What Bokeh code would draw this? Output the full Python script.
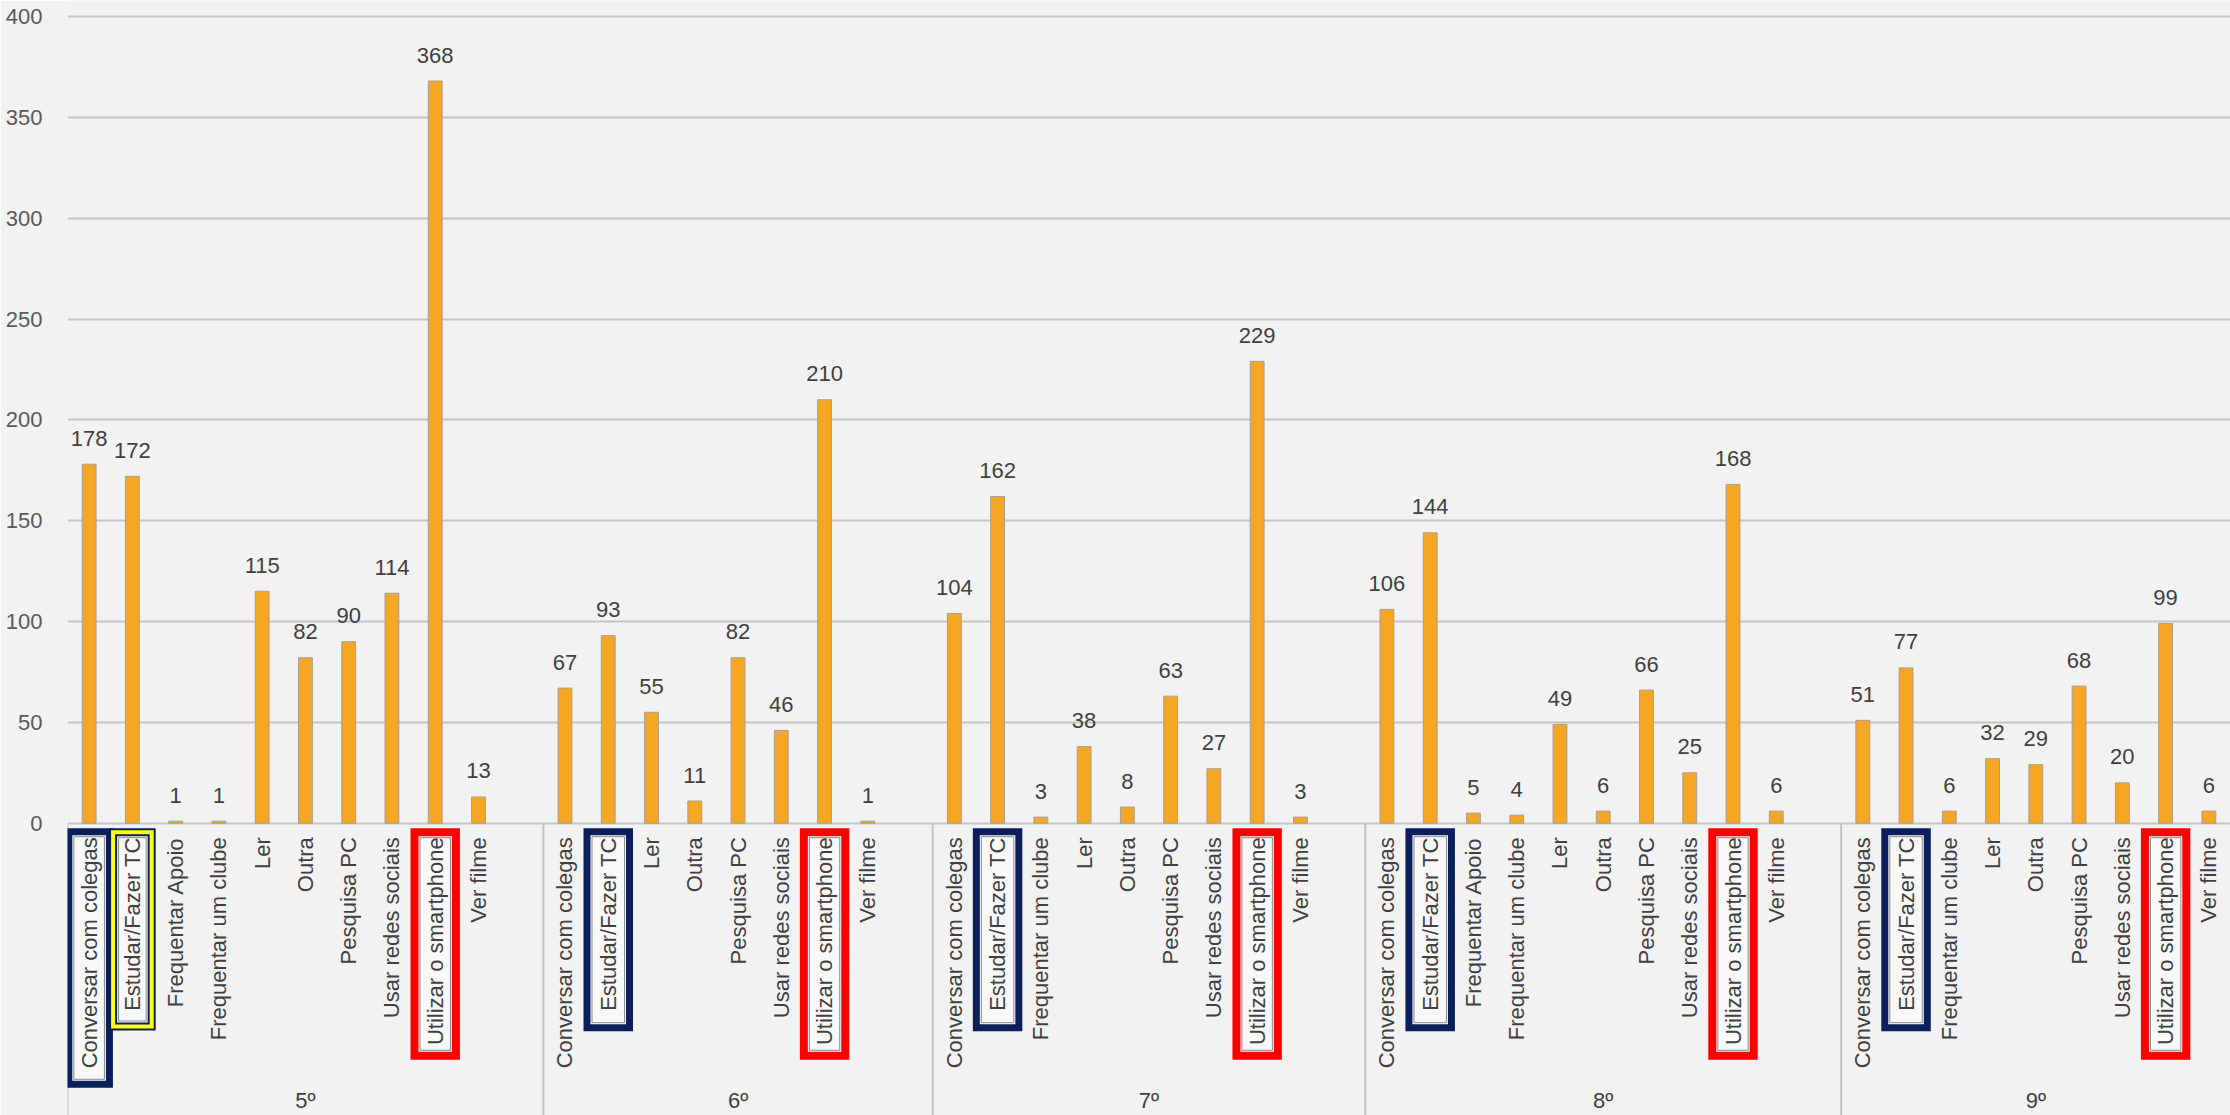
import math
from bokeh.plotting import figure
from bokeh.models import FactorRange, Range1d, FixedTicker, ColumnDataSource
from bokeh.core.properties import value
from bokeh.embed import file_html
from bokeh.resources import INLINE

# ---------------- data ----------------
grades = ["5º", "6º", "7º", "8º", "9º"]

acts_5 = ["Conversar com colegas", "Estudar/Fazer TC", "Frequentar Apoio", "Frequentar um clube",
          "Ler", "Outra", "Pesquisa PC", "Usar redes sociais", "Utilizar o smartphone", "Ver filme"]
vals_5 = [178, 172, 1, 1, 115, 82, 90, 114, 368, 13]

acts_6 = ["Conversar com colegas", "Estudar/Fazer TC", "Ler", "Outra", "Pesquisa PC",
          "Usar redes sociais", "Utilizar o smartphone", "Ver filme"]
vals_6 = [67, 93, 55, 11, 82, 46, 210, 1]

acts_7 = ["Conversar com colegas", "Estudar/Fazer TC", "Frequentar um clube", "Ler", "Outra",
          "Pesquisa PC", "Usar redes sociais", "Utilizar o smartphone", "Ver filme"]
vals_7 = [104, 162, 3, 38, 8, 63, 27, 229, 3]

acts_8 = ["Conversar com colegas", "Estudar/Fazer TC", "Frequentar Apoio", "Frequentar um clube",
          "Ler", "Outra", "Pesquisa PC", "Usar redes sociais", "Utilizar o smartphone", "Ver filme"]
vals_8 = [106, 144, 5, 4, 49, 6, 66, 25, 168, 6]

acts_9 = ["Conversar com colegas", "Estudar/Fazer TC", "Frequentar um clube", "Ler", "Outra",
          "Pesquisa PC", "Usar redes sociais", "Utilizar o smartphone", "Ver filme"]
vals_9 = [51, 77, 6, 32, 29, 68, 20, 99, 6]

y_ticks = [0, 50, 100, 150, 200, 250, 300, 350, 400]

# highlighted category labels: (grade, activity, style)
highlights = [
    ("5º", "Conversar com colegas", "navy_long"),
    ("5º", "Estudar/Fazer TC", "yellow"),
    ("5º", "Utilizar o smartphone", "red"),
    ("6º", "Estudar/Fazer TC", "navy"),
    ("6º", "Utilizar o smartphone", "red"),
    ("7º", "Estudar/Fazer TC", "navy"),
    ("7º", "Utilizar o smartphone", "red"),
    ("8º", "Estudar/Fazer TC", "navy"),
    ("8º", "Utilizar o smartphone", "red"),
    ("9º", "Estudar/Fazer TC", "navy"),
    ("9º", "Utilizar o smartphone", "red"),
]

groups = [(grades[0], acts_5, vals_5), (grades[1], acts_6, vals_6), (grades[2], acts_7, vals_7),
          (grades[3], acts_8, vals_8), (grades[4], acts_9, vals_9)]

factors, tops, names = [], [], []
for g, acts, vals in groups:
    for a, v in zip(acts, vals):
        factors.append((g, a))
        tops.append(v)
        names.append(a)

# ---------------- layout constants ----------------
W, H = 2230, 1115
LEFT = 67
PX_TOP_400 = 16.0     # pixel row of the 400 line
PX_ZERO = 822.7       # pixel row of the zero line
K = (PX_ZERO - PX_TOP_400) / 400.0   # px per data unit
Y1 = 400.0 + PX_TOP_400 / K
Y0 = -(H - PX_ZERO) / K
n_slots = len(factors) + (len(groups) - 1)
SLOT = (W - LEFT) / n_slots  # px per category slot
LABEL_GAP_PX = 26.0

FONT = value("Liberation Sans")
BG = "#f2f2f2"

p = figure(
    width=W, height=H,
    x_range=FactorRange(*factors, group_padding=1.0, factor_padding=0.0, range_padding=0.0),
    y_range=Range1d(Y0, Y1),
    output_backend="svg", toolbar_location=None, x_axis_location=None,
    min_border_left=LEFT, min_border_right=0, min_border_top=0, min_border_bottom=0,
)
p.background_fill_color = BG
p.border_fill_color = BG
p.outline_line_color = None

# y axis
p.yaxis.ticker = FixedTicker(ticks=y_ticks)
p.yaxis.axis_line_color = None
p.yaxis.major_tick_line_color = None
p.yaxis.minor_tick_line_color = None
p.yaxis.major_label_text_font = "Liberation Sans"
p.yaxis.major_label_text_font_size = "22px"
p.yaxis.major_label_text_color = "#595959"
p.yaxis.major_label_standoff = 19
p.ygrid.ticker = FixedTicker(ticks=y_ticks)
p.ygrid.grid_line_color = "#c4c4c4"
p.ygrid.grid_line_width = 2
p.xgrid.visible = False

src = ColumnDataSource(dict(x=factors, top=tops, name=names, lab=[str(v) for v in tops],
                            ylab=[v + LABEL_GAP_PX / K for v in tops]))

# group separators (start of each group) and group labels
sep_x, glab_x, glab_t = [], [], []
for i, (g, acts, vals) in enumerate(groups):
    sep_x.append((g, acts[0], -0.5))
    slots = len(acts) + (1 if i < len(groups) - 1 else 0)
    glab_x.append((g, acts[0], slots / 2.0 - 0.5))
    glab_t.append(g)
p.segment(x0=sep_x, y0=[0] * len(sep_x), x1=sep_x, y1=[Y0] * len(sep_x),
          line_color="#c4c4c4", line_width=2)

# highlight boxes around labels
styles = {
    # outer width px, outer top / bottom px below the zero line, colour, line width
    "navy_long": (47.6, 5.0, 264.6, "#0b1f5c", 7),
    "navy": (49.5, 5.0, 208.0, "#0b1f5c", 7),
    "yellow": (46.6, 5.0, 207.3, "#0b1f5c", 8),
    "red": (49.4, 5.0, 236.6, "#ff0000", 8),
}
for key in ["navy_long", "navy", "yellow", "red"]:
    ow, otop, obot, col, lw = styles[key]
    xs = [(g, a) for g, a, s in highlights if s == key]
    if not xs:
        continue
    wc = (ow - lw) / SLOT
    ytop = -(otop + lw / 2) / K
    ybot = -(obot - lw / 2) / K
    p.rect(x=xs, y=[(ytop + ybot) / 2] * len(xs), width=wc, height=[(ytop - ybot)] * len(xs),
           fill_color="#f8f8f8", line_color=col, line_width=lw, line_join="miter")
    if key == "yellow":
        p.rect(x=xs, y=[(ytop + ybot) / 2] * len(xs), width=wc, height=[(ytop - ybot)] * len(xs),
               fill_color=None, line_color="#ffff1a", line_width=4, line_join="miter")
    # thin inner grey line
    iw = (ow - 2 * lw - 3) / SLOT
    itop = -(otop + lw + 1.5) / K
    ibot = -(obot - lw - 1.5) / K
    p.rect(x=xs, y=[(itop + ibot) / 2] * len(xs), width=iw, height=[(itop - ibot)] * len(xs),
           fill_color=None, line_color="#8a8a8a", line_width=1)

# bars
p.vbar(x="x", top="top", bottom=0, width=0.32, source=src,
       fill_color="#f5a623", line_color="#a89f94", line_width=1)

# value labels
p.text(x="x", y="ylab", text="lab", source=src,
       text_align="center", text_baseline="alphabetic",
       text_font=FONT, text_font_size="22px", text_color="#404040")

# category labels (vertical)
p.text(x="x", y=-14.0 / K, text="name", source=src, angle=math.pi / 2,
       text_align="right", text_baseline="middle",
       text_font=FONT, text_font_size="22px", text_color="#404040")

# group labels
p.text(x=glab_x, y=[-277.0 / K] * len(glab_x), text=glab_t,
       text_align="center", text_baseline="middle",
       text_font=FONT, text_font_size="22px", text_color="#404040")

open("out.html", "w").write(file_html(p, INLINE))
